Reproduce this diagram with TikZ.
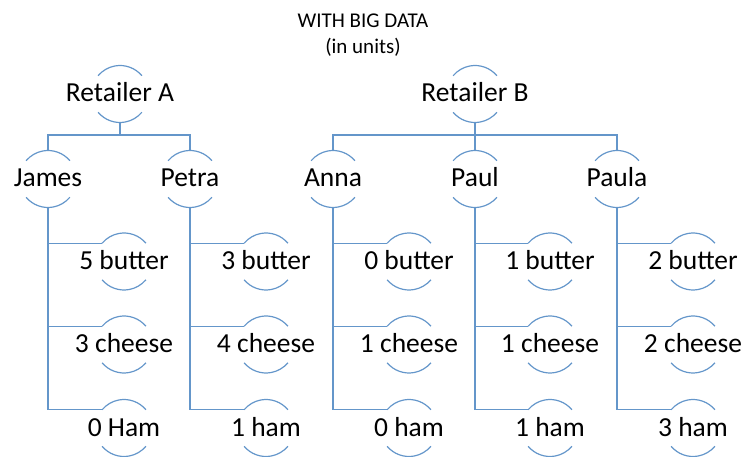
\documentclass[tikz,border=0pt]{standalone}
\usepackage{fontspec}
\setmainfont{Carlito}
\definecolor{linkblue}{RGB}{100,150,202}
\tikzset{
  x=1pt, y=1pt,
  ring/.style={draw=linkblue, line width=1.2pt},
  link/.style={draw=linkblue, line width=1.2pt},
  stub/.style={draw=linkblue, line width=1.8pt},
  label/.style={font=\fontsize{27.5}{33}\selectfont, text height=16pt, text depth=0pt, inner sep=0pt},
  heading/.style={font=\fontsize{21}{26}\selectfont, align=center, inner sep=0pt}
}
\newcommand{\rr}{28.5pt}
\begin{document}
\begin{tikzpicture}
\useasboundingbox (0,0) rectangle (745,-457);

% title
\node[heading] (title) at (363,-35.5) {WITH BIG DATA\\(in units)};

% retailers
\node[label] (ra) at (120,-94) {Retailer A};
\node[label] (rb) at (475,-94) {Retailer B};

% customers
\node[label] (james) at (48,-179)  {James};
\node[label] (petra) at (190,-179) {Petra};
\node[label] (anna)  at (333,-179) {Anna};
\node[label] (paul)  at (475,-179) {Paul};
\node[label] (paula) at (617,-179) {Paula};

% purchases
\node[label] (jb) at (124,-261.5) {5 butter};
\node[label] (jc) at (124,-344.5) {3 cheese};
\node[label] (jh) at (124,-428)   {0 Ham};
\node[label] (pb) at (266,-261.5) {3 butter};
\node[label] (pc) at (266,-344.5) {4 cheese};
\node[label] (ph) at (266,-428)   {1 ham};
\node[label] (ab) at (409,-261.5) {0 butter};
\node[label] (ac) at (409,-344.5) {1 cheese};
\node[label] (ah) at (409,-428)   {0 ham};
\node[label] (ub) at (550,-261.5) {1 butter};
\node[label] (uc) at (550,-344.5) {1 cheese};
\node[label] (uh) at (550,-428)   {1 ham};
\node[label] (lb) at (693,-261.5) {2 butter};
\node[label] (lc) at (693,-344.5) {2 cheese};
\node[label] (lh) at (693,-428)   {3 ham};

% open rings: upper and lower arcs round each label
\foreach \n in {ra,rb,james,petra,anna,paul,paula,jb,jc,jh,pb,pc,ph,ab,ac,ah,ub,uc,uh,lb,lc,lh} {
  \draw[ring] ([shift={(40:\rr)}]\n.center) arc[start angle=40, end angle=140, radius=\rr];
  \draw[ring] ([shift={(220:\rr)}]\n.center) arc[start angle=220, end angle=320, radius=\rr];
}

% retailer to customer connectors
\foreach \p/\c in {ra/james, ra/petra, rb/anna, rb/paul, rb/paula} {
  \draw[link] ([yshift=-\rr]\p.center) -- ++(0,-12.5) -| ([yshift=\rr]\c.center);
}
\foreach \p in {ra,rb} {
  \draw[stub] ([yshift=-\rr]\p.center) -- ++(0,-12.5);
}

% customer to purchase connectors
\foreach \p/\c in {james/jb, james/jc, james/jh, petra/pb, petra/pc, petra/ph,
                   anna/ab, anna/ac, anna/ah, paul/ub, paul/uc, paul/uh,
                   paula/lb, paula/lc, paula/lh} {
  \draw[link] ([yshift=-\rr]\p.center) |- ([shift={(140:\rr)}]\c.center);
}
\end{tikzpicture}
\end{document}
